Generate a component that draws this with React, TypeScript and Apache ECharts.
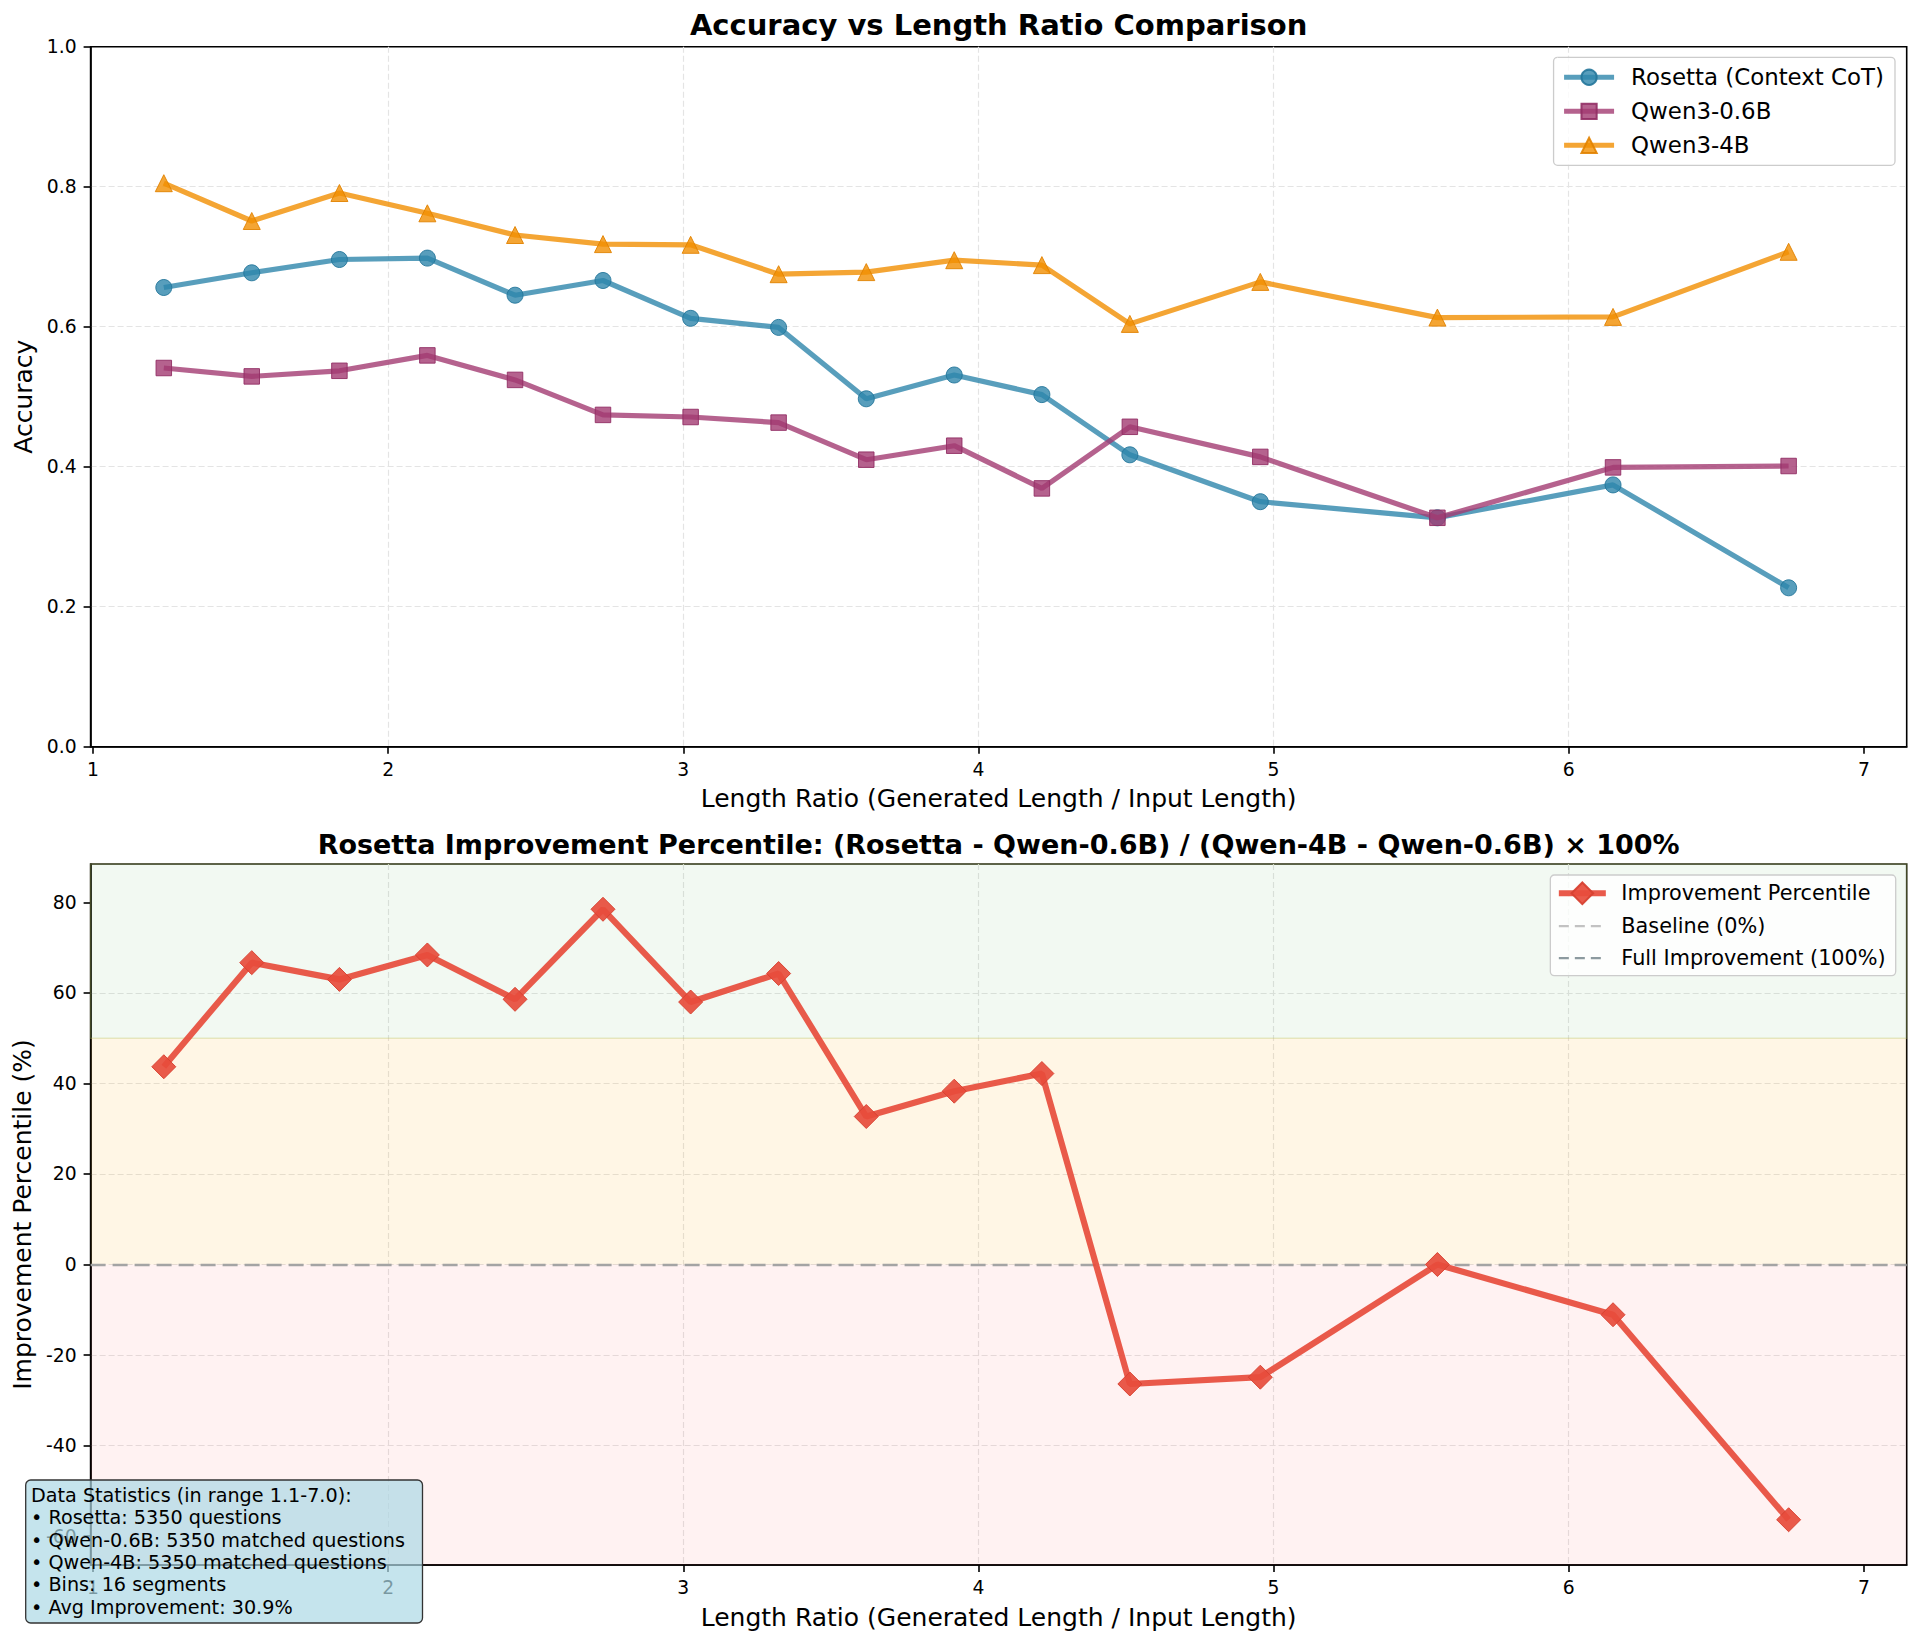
import React, { useEffect, useRef } from "react";
import * as echarts from "echarts";

// ---------------- data ----------------
const lengthRatio = [1.24, 1.538, 1.835, 2.133, 2.43, 2.728, 3.025, 3.323, 3.62, 3.918, 4.215, 4.513, 4.955, 5.555, 6.15, 6.745];
const rosettaAcc = [0.656, 0.677, 0.696, 0.698, 0.645, 0.666, 0.612, 0.599, 0.497, 0.531, 0.503, 0.417, 0.35, 0.327, 0.374, 0.227];
const qwen06Acc = [0.541, 0.529, 0.537, 0.559, 0.524, 0.474, 0.471, 0.463, 0.41, 0.43, 0.369, 0.457, 0.414, 0.327, 0.399, 0.401];
const qwen4Acc = [0.805, 0.751, 0.791, 0.762, 0.731, 0.718, 0.717, 0.675, 0.678, 0.695, 0.688, 0.604, 0.664, 0.613, 0.614, 0.707];
const improvementPct = [43.7, 66.7, 63.0, 68.4, 58.6, 78.5, 58.0, 64.3, 32.7, 38.3, 42.2, -26.4, -24.9, 0.0, -11.1, -56.4];

const xTicks = [1, 2, 3, 4, 5, 6, 7];
const accTicks = [0, 0.2, 0.4, 0.6, 0.8, 1.0];
const impTicks = [-60, -40, -20, 0, 20, 40, 60, 80];
const bandThresholds = [0, 50];

const topLegend = ["Rosetta (Context CoT)", "Qwen3-0.6B", "Qwen3-4B"];
const bottomLegend = ["Improvement Percentile", "Baseline (0%)", "Full Improvement (100%)"];

const statsLines = [
  "Data Statistics (in range 1.1-7.0):",
  "• Rosetta: 5350 questions",
  "• Qwen-0.6B: 5350 matched questions",
  "• Qwen-4B: 5350 matched questions",
  "• Bins: 16 segments",
  "• Avg Improvement: 30.9%",
];

// ---------------- styling / layout ----------------
const FONT = "DejaVu Sans";
const X_MIN = 0.992;
const X_MAX = 7.145;
const Y_MIN = Math.min(...improvementPct) - 10;
const Y_MAX = Math.max(...improvementPct) + 10;

const PLOT_LEFT = 90.6;
const PLOT_RIGHT = 13.3;
const PLOT_W = 1920 - PLOT_LEFT - PLOT_RIGHT;
const CENTER_X = PLOT_LEFT + PLOT_W / 2;

const BLUE = "rgba(46,134,171,0.8)";
const BLUE_E = "rgba(36,118,154,0.9)";
const PURPLE = "rgba(162,59,114,0.8)";
const PURPLE_E = "rgba(145,45,100,0.9)";
const ORANGE = "rgba(241,143,1,0.8)";
const ORANGE_E = "rgba(225,130,0,0.9)";
const RED = "rgba(231,76,60,0.92)";
const RED_E = "rgba(215,65,50,0.95)";

const GRID_LINE = { show: true, showMinLine: false, showMaxLine: false, lineStyle: { color: "#e4e4e4", width: 1.2, type: [6, 3] } };

const pairs = (ys: number[]) => lengthRatio.map((x, i) => [x, ys[i]]);

function xAxisCfg(gridIndex: number, nameGap: number) {
  return {
    type: "value",
    gridIndex,
    min: X_MIN,
    max: X_MAX,
    splitNumber: 6,
    axisLine: { show: true, onZero: false, lineStyle: { color: "#000", width: 1.6 } },
    axisTick: { show: true, length: 7, customValues: xTicks, lineStyle: { color: "#000", width: 1.6 } },
    axisLabel: { customValues: xTicks, margin: 13, fontSize: 18.75, fontFamily: FONT, color: "#000" },
    splitLine: GRID_LINE,
    name: "Length Ratio (Generated Length / Input Length)",
    nameLocation: "middle",
    nameGap,
    nameTextStyle: { fontSize: 25, fontFamily: FONT, color: "#000" },
  };
}

export default function App() {
  const ref = useRef<HTMLDivElement | null>(null);

  useEffect(() => {
    if (!ref.current) return;
    const chart = echarts.init(ref.current, null, { renderer: "svg" });

    const option: any = {
      animation: false,
      backgroundColor: "#ffffff",
      grid: [
        { left: PLOT_LEFT, right: PLOT_RIGHT, top: 46.7, height: 700, show: true, borderColor: "#000", borderWidth: 1.6, backgroundColor: "transparent", containLabel: false },
        { left: PLOT_LEFT, right: PLOT_RIGHT, top: 864, height: 701, show: true, borderColor: "#000", borderWidth: 1.6, backgroundColor: "transparent", containLabel: false },
      ],
      xAxis: [xAxisCfg(0, 39), xAxisCfg(1, 40)],
      yAxis: [
        {
          type: "value",
          gridIndex: 0,
          min: 0,
          max: 1,
          interval: 0.2,
          axisLine: { show: true, onZero: false, lineStyle: { color: "#000", width: 1.6 } },
          axisTick: { show: true, length: 7, customValues: accTicks, lineStyle: { color: "#000", width: 1.6 } },
          axisLabel: { customValues: accTicks, margin: 14, fontSize: 18.75, fontFamily: FONT, color: "#000", formatter: (v: number) => v.toFixed(1) },
          splitLine: GRID_LINE,
          name: "Accuracy",
          nameLocation: "middle",
          nameGap: 52.5,
          nameTextStyle: { fontSize: 25, fontFamily: FONT, color: "#000" },
        },
        {
          type: "value",
          gridIndex: 1,
          min: Y_MIN,
          max: Y_MAX,
          splitNumber: 8,
          axisLine: { show: true, onZero: false, lineStyle: { color: "#000", width: 1.6 } },
          axisTick: { show: true, length: 7, customValues: impTicks, lineStyle: { color: "#000", width: 1.6 } },
          axisLabel: { customValues: impTicks, margin: 14, fontSize: 18.75, fontFamily: FONT, color: "#000" },
          splitLine: GRID_LINE,
          name: "Improvement Percentile (%)",
          nameLocation: "middle",
          nameGap: 53,
          nameTextStyle: { fontSize: 25, fontFamily: FONT, color: "#000" },
        },
      ],
      legend: [
        {
          orient: "vertical",
          right: 25,
          top: 57.3,
          padding: [8, 11, 8, 8],
          itemWidth: 50,
          itemHeight: 19,
          itemGap: 10,
          selectedMode: false,
          backgroundColor: "rgba(255,255,255,0.8)",
          borderColor: "#cccccc",
          borderWidth: 1.3,
          borderRadius: 4,
          lineStyle: { width: 5 },
          textStyle: { fontSize: 22.9, lineHeight: 24, fontFamily: FONT, color: "#000", padding: [0, 0, 0, 12] },
          data: topLegend,
        },
        {
          orient: "vertical",
          right: 24.3,
          top: 875,
          padding: [6.5, 10, 6.5, 5.5],
          itemWidth: 47,
          itemHeight: 27,
          itemGap: 10,
          selectedMode: false,
          backgroundColor: "rgba(255,255,255,0.8)",
          borderColor: "#cccccc",
          borderWidth: 1.3,
          borderRadius: 4,
          textStyle: { fontSize: 20.8, lineHeight: 22, fontFamily: FONT, color: "#000", padding: [0, 0, 0, 10.5] },
          data: [
            { name: bottomLegend[0], lineStyle: { width: 6 } },
            { name: bottomLegend[1], lineStyle: { width: 2.2 }, itemStyle: { color: "rgba(0,0,0,0)", borderColor: "rgba(0,0,0,0)", borderWidth: 0 } },
            { name: bottomLegend[2], lineStyle: { width: 2.2 }, itemStyle: { color: "rgba(0,0,0,0)", borderColor: "rgba(0,0,0,0)", borderWidth: 0 } },
          ],
        },
      ],
      series: [
        {
          name: topLegend[0],
          type: "line",
          xAxisIndex: 0,
          yAxisIndex: 0,
          data: pairs(rosettaAcc),
          symbol: "circle",
          symbolSize: 16,
          lineStyle: { color: BLUE, width: 5.2 },
          itemStyle: { color: BLUE, borderColor: BLUE_E, borderWidth: 1 },
          z: 2,
        },
        {
          name: topLegend[1],
          type: "line",
          xAxisIndex: 0,
          yAxisIndex: 0,
          data: pairs(qwen06Acc),
          symbol: "rect",
          symbolSize: 15.5,
          lineStyle: { color: PURPLE, width: 5.2 },
          itemStyle: { color: PURPLE, borderColor: PURPLE_E, borderWidth: 1 },
          z: 3,
        },
        {
          name: topLegend[2],
          type: "line",
          xAxisIndex: 0,
          yAxisIndex: 0,
          data: pairs(qwen4Acc),
          symbol: "triangle",
          symbolSize: 17,
          lineStyle: { color: ORANGE, width: 5.2 },
          itemStyle: { color: ORANGE, borderColor: ORANGE_E, borderWidth: 1 },
          z: 4,
        },
        {
          name: "bands",
          type: "line",
          xAxisIndex: 1,
          yAxisIndex: 1,
          data: [],
          z: 1,
          markArea: {
            silent: true,
            data: [
              [{ yAxis: bandThresholds[1], itemStyle: { color: "rgba(0,128,0,0.05)", borderColor: "rgba(190,200,110,0.35)", borderWidth: 1.5 } }, { yAxis: Y_MAX }],
              [{ yAxis: bandThresholds[0], itemStyle: { color: "rgba(255,165,0,0.1)" } }, { yAxis: bandThresholds[1] }],
              [{ yAxis: Y_MIN, itemStyle: { color: "rgba(255,0,0,0.05)" } }, { yAxis: bandThresholds[0] }],
            ],
          },
          markLine: {
            silent: true,
            symbol: ["none", "none"],
            label: { show: false },
            lineStyle: { color: "#a4a4a4", type: [15, 7], width: 2.4 },
            data: [{ yAxis: bandThresholds[0] }],
          },
        },
        {
          name: bottomLegend[0],
          type: "line",
          xAxisIndex: 1,
          yAxisIndex: 1,
          data: pairs(improvementPct),
          symbol: "diamond",
          symbolSize: 24,
          lineStyle: { color: RED, width: 6.2 },
          itemStyle: { color: RED, borderColor: RED_E, borderWidth: 1 },
          z: 5,
        },
        {
          name: bottomLegend[1],
          type: "line",
          xAxisIndex: 1,
          yAxisIndex: 1,
          data: [],
          symbol: "none",
          lineStyle: { color: "#c2c2c2", type: [10, 6], width: 2.2 },
        },
        {
          name: bottomLegend[2],
          type: "line",
          xAxisIndex: 1,
          yAxisIndex: 1,
          data: [],
          symbol: "none",
          lineStyle: { color: "#8c9a9f", type: [10, 6], width: 2.2 },
        },
      ],
      graphic: [
        {
          type: "text",
          x: CENTER_X,
          y: 25,
          z: 50,
          style: {
            text: "Accuracy vs Length Ratio Comparison",
            fontSize: 29,
            fontWeight: "bold",
            fontFamily: FONT,
            fill: "#000",
            align: "center",
            verticalAlign: "middle",
            textAlign: "center",
            textVerticalAlign: "middle",
          },
        },
        {
          type: "text",
          x: CENTER_X,
          y: 844,
          z: 50,
          style: {
            text: "Rosetta Improvement Percentile: (Rosetta - Qwen-0.6B) / (Qwen-4B - Qwen-0.6B) × 100%",
            fontSize: 27,
            fontWeight: "bold",
            fontFamily: FONT,
            fill: "#000",
            align: "center",
            verticalAlign: "middle",
            textAlign: "center",
            textVerticalAlign: "middle",
          },
        },
        {
          type: "group",
          z: 100,
          children: [
            {
              type: "rect",
              z: 100,
              shape: { x: 25.7, y: 1480, width: 396.8, height: 143, r: 5 },
              style: { fill: "rgba(173,216,230,0.7)", stroke: "#333333", lineWidth: 1.3 },
            },
            {
              type: "text",
              z: 101,
              x: 31,
              y: 1484,
              style: {
                text: statsLines.join("\n"),
                fontSize: 19.2,
                lineHeight: 22.4,
                fontFamily: FONT,
                fill: "#000",
                align: "left",
                verticalAlign: "top",
                textAlign: "left",
                textVerticalAlign: "top",
              },
            },
          ],
        },
      ],
    };

    chart.setOption(option);
    return () => {
      chart.dispose();
    };
  }, []);

  return (
    <div
      ref={ref}
      style={{ position: "absolute", left: 0, top: 0, width: 1920, height: 1643, background: "#fff" }}
    />
  );
}
